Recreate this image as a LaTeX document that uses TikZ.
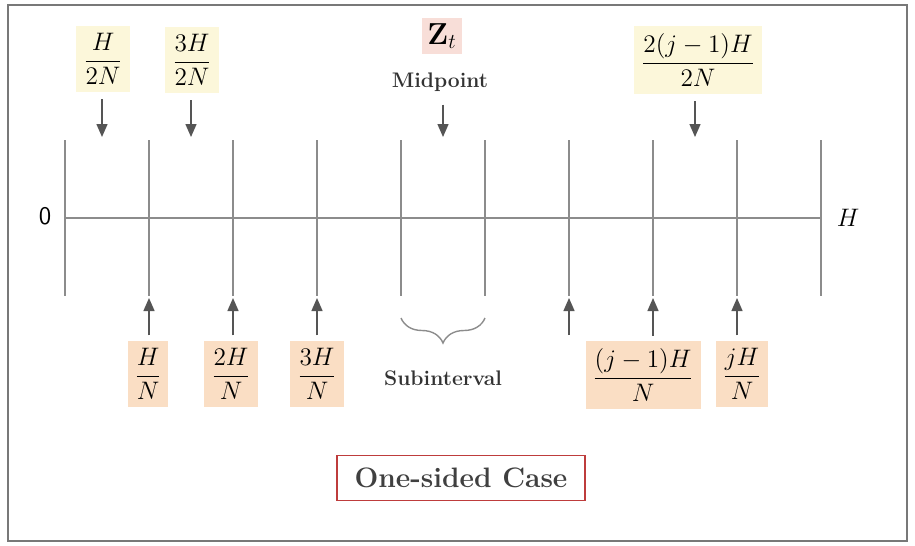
\documentclass[tikz,border=0pt]{standalone}
\usepackage{amsmath,amssymb}
\usetikzlibrary{arrows.meta,positioning,decorations.pathreplacing}
\definecolor{tickgray}  {RGB}{140,140,140}
\definecolor{arrowgray} {RGB}{85,85,85}
\definecolor{frameclr}  {RGB}{120,120,120}
\definecolor{lightyel}  {RGB}{252,247,218}
\definecolor{lightpink} {RGB}{248,222,216}
\definecolor{lightpeach}{RGB}{250,222,196}
\definecolor{caseframe} {RGB}{190,60,60}

\begin{document}
\begin{tikzpicture}[x=0.02cm,y=-0.02cm,
  every node/.style={font=\Large},
  tk/.style={draw=tickgray,thick},
  topl/.style={fill=lightyel,inner sep=4pt},
  botl/.style={fill=lightpeach,inner sep=4pt},
  arr/.style={-{Triangle[length=2.6mm,width=2.2mm]},draw=arrowgray,thick},
  txt/.style={font=\large\bfseries,text=black!80},
]
\useasboundingbox (0,0) rectangle (915,545);

%% ── Frame ─────────────────────────────────────────────────────────────────
\draw[frameclr,thick] (8,5) rectangle (907,541);

%% ── Axis and ticks ────────────────────────────────────────────────────────
\node[font=\Large\sffamily] (zero) at (45,216) {0};
\node (hend) at (848,218) {$H$};
\draw[tk] (65,218) -- (821,218);
\draw[tk] (65,140)  -- (65,296);
\draw[tk] (149,140) -- (149,296);
\draw[tk] (233,140) -- (233,296);
\draw[tk] (317,140) -- (317,296);
\draw[tk] (401,140) -- (401,296);
\draw[tk] (485,140) -- (485,296);
\draw[tk] (569,140) -- (569,296);
\draw[tk] (653,140) -- (653,296);
\draw[tk] (737,140) -- (737,296);
\draw[tk] (821,140) -- (821,296);

%% ── Midpoint labels above ─────────────────────────────────────────────────
\node[topl] (top1) at (103,59) {$\dfrac{H}{2N}$};
\node[topl] (top2) at (192,60) {$\dfrac{3H}{2N}$};
\node[fill=lightpink,inner sep=3pt,font=\LARGE] (zt) at (442,36) {$\mathbf{Z}_{t}$};
\node[txt] (mid) at (440,82) {Midpoint};
\node[topl] (top3) at (698,60) {$\dfrac{2(j-1)H}{2N}$};

\coordinate (m1) at (102,137);
\coordinate (m2) at (191,137);
\coordinate (m3) at (443,137);
\coordinate (m4) at (695,137);

\draw[arr,shorten <=4pt] (top1.south -| m1) -- (m1);
\draw[arr,shorten <=4pt] (top2.south -| m2) -- (m2);
\draw[arr,shorten <=4pt] (mid.south -| m3) -- (m3);
\draw[arr,shorten <=4pt] (top3.south -| m4) -- (m4);

%% ── Grid point labels below ───────────────────────────────────────────────
\node[botl] (bot1) at (148,374) {$\dfrac{H}{N}$};
\node[botl] (bot2) at (231,374) {$\dfrac{2H}{N}$};
\node[botl] (bot3) at (317,374) {$\dfrac{3H}{N}$};
\node[botl] (bot4) at (643,375) {$\dfrac{(j-1)H}{N}$};
\node[botl] (bot5) at (742,374) {$\dfrac{jH}{N}$};

\coordinate (g1) at (149,298);
\coordinate (g2) at (233,298);
\coordinate (g3) at (317,298);
\coordinate (g4) at (569,298);
\coordinate (g5) at (653,298);
\coordinate (g6) at (737,298);
\coordinate (g4s) at (569,335);

\draw[arr,shorten <=3pt] (bot1.north -| g1) -- (g1);
\draw[arr,shorten <=3pt] (bot2.north -| g2) -- (g2);
\draw[arr,shorten <=3pt] (bot3.north -| g3) -- (g3);
\draw[arr] (g4s) -- (g4);
\draw[arr,shorten <=3pt] (bot4.north -| g5) -- (g5);
\draw[arr,shorten <=3pt] (bot5.north -| g6) -- (g6);

%% ── Subinterval brace ─────────────────────────────────────────────────────
\draw[tk,decorate,decoration={brace,amplitude=0.5cm}] (485,318) -- (401,318);
\node[txt] (sub) at (443,378) {Subinterval};

%% ── Caption box ───────────────────────────────────────────────────────────
\node[draw=caseframe,thick,fill=white,font=\fontsize{16}{19}\selectfont\bfseries,
      text=black!75,minimum width=4.96cm,minimum height=0.9cm] (case) at (461,478)
  {One-sided Case};

\end{tikzpicture}
\end{document}
